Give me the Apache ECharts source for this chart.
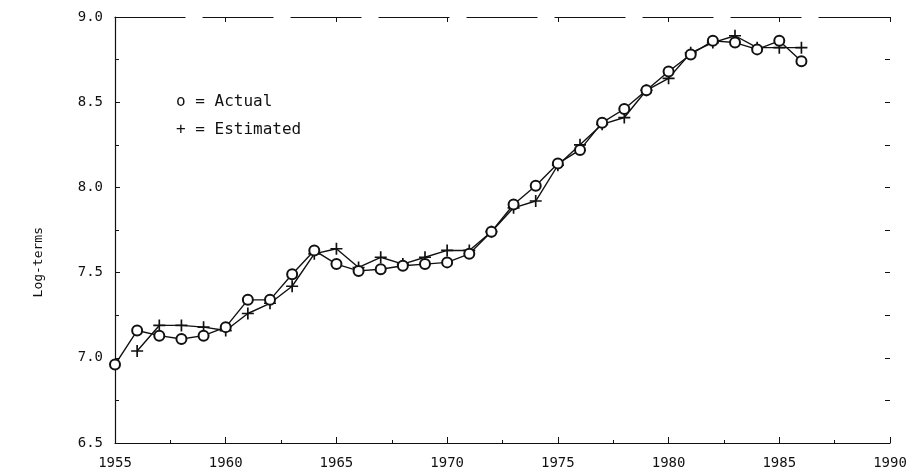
<!DOCTYPE html>
<html>
<head>
<meta charset="utf-8">
<script src="https://cdn.jsdelivr.net/npm/echarts@6/dist/echarts.min.js"></script>
<style>
  html, body { margin: 0; padding: 0; background: #fff; }
  #chart { width: 910px; height: 474px; }
</style>
</head>
<body>
<div id="chart"></div>
<script>
// years and log values
const actualYears = [1955, 1956, 1957, 1958, 1959, 1960, 1961, 1962, 1963, 1964, 1965, 1966, 1967, 1968, 1969, 1970,
  1971, 1972, 1973, 1974, 1975, 1976, 1977, 1978, 1979, 1980, 1981, 1982, 1983, 1984, 1985, 1986];
const actual = [6.96, 7.16, 7.13, 7.11, 7.13, 7.18, 7.34, 7.34, 7.49, 7.63, 7.55, 7.51, 7.52, 7.54, 7.55, 7.56,
  7.61, 7.74, 7.90, 8.01, 8.14, 8.22, 8.38, 8.46, 8.57, 8.68, 8.78, 8.86, 8.85, 8.81, 8.86, 8.74];

const estimatedYears = [1956, 1957, 1958, 1959, 1960, 1961, 1962, 1963, 1964, 1965, 1966, 1967, 1968, 1969, 1970,
  1971, 1972, 1973, 1974, 1975, 1976, 1977, 1978, 1979, 1980, 1981, 1982, 1983, 1984, 1985, 1986];
const estimated = [7.04, 7.19, 7.19, 7.18, 7.16, 7.26, 7.32, 7.42, 7.61, 7.64, 7.53, 7.59, 7.55, 7.59, 7.63,
  7.63, 7.74, 7.88, 7.92, 8.13, 8.25, 8.37, 8.41, 8.57, 8.64, 8.79, 8.85, 8.89, 8.82, 8.82, 8.82];

const font = "DejaVu Sans Mono";
const ink = "#111";

const pairs = (xs, ys) => xs.map((x, i) => [x, ys[i]]);

const chart = echarts.init(document.getElementById("chart"), null, { renderer: "canvas" });
chart.setOption({
  animation: false,
  backgroundColor: "#fff",
  grid: { left: 115, right: 20, top: 17, bottom: 31 },
  xAxis: [
    {
      type: "value",
      min: 1955,
      max: 1990,
      interval: 5,
      axisLine: { lineStyle: { color: ink, width: 1.2 } },
      axisTick: { inside: true, length: 6, lineStyle: { color: ink } },
      minorTick: { show: true, splitNumber: 2, length: 3, lineStyle: { color: ink } },
      splitLine: { show: false },
      axisLabel: { margin: 13, color: ink, fontFamily: font, fontSize: 14, formatter: v => String(v) }
    },
    {
      type: "value",
      position: "top",
      min: 1955,
      max: 1990,
      interval: 5,
      axisLine: { lineStyle: { color: ink, width: 1.2, type: [70, 18] } },
      axisTick: { inside: true, length: 5, lineStyle: { color: ink } },
      axisLabel: { show: false },
      splitLine: { show: false }
    }
  ],
  yAxis: [
    {
      type: "value",
      min: 6.5,
      max: 9.0,
      interval: 0.5,
      axisLine: { show: true, lineStyle: { color: ink, width: 1.2 } },
      axisTick: { show: true, inside: true, length: 5, lineStyle: { color: ink } },
      minorTick: { show: true, splitNumber: 2, length: 4, lineStyle: { color: ink } },
      splitLine: { show: false },
      axisLabel: {
        margin: 12,
        color: ink,
        fontFamily: font,
        fontSize: 14,
        formatter: v => v.toFixed(1)
      }
    },
    {
      type: "value",
      position: "right",
      min: 6.5,
      max: 9.0,
      interval: 0.5,
      axisLine: { show: false },
      axisTick: { show: true, inside: true, length: 5, lineStyle: { color: ink } },
      minorTick: { show: true, splitNumber: 2, length: 5, lineStyle: { color: ink } },
      splitLine: { show: false },
      axisLabel: { show: false }
    }
  ],
  graphic: [
    {
      type: "text",
      left: 32,
      top: 227,
      rotation: Math.PI / 2,
      style: { text: "Log-terms", fill: ink, font: "13px " + font }
    },
    {
      type: "text",
      left: 176,
      top: 94,
      style: { text: "o = Actual", fill: ink, font: "16px " + font }
    },
    {
      type: "text",
      left: 176,
      top: 122,
      style: { text: "+ = Estimated", fill: ink, font: "16px " + font }
    }
  ],
  series: [
    {
      name: "Actual",
      type: "line",
      data: pairs(actualYears, actual),
      symbol: "emptyCircle",
      symbolSize: 10,
      lineStyle: { color: ink, width: 1.4 },
      itemStyle: { color: ink, borderWidth: 1.5 },
      z: 3
    },
    {
      name: "Estimated",
      type: "line",
      data: pairs(estimatedYears, estimated),
      symbol: "path://M4.3,0H5.7V4.3H10V5.7H5.7V10H4.3V5.7H0V4.3H4.3Z",
      symbolSize: 12,
      lineStyle: { color: ink, width: 1.4 },
      itemStyle: { color: ink },
      z: 2
    }
  ]
});
</script>
</body>
</html>
